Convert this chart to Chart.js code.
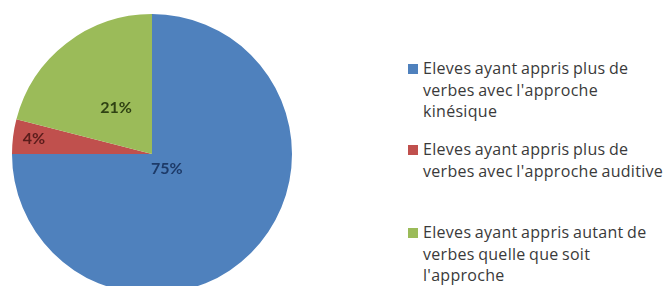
<!DOCTYPE html>
<html>
<head>
<meta charset="utf-8">
<script src="https://cdn.jsdelivr.net/npm/chart.js@4.4.1/dist/chart.umd.min.js"></script>
<style>
  html, body { margin: 0; padding: 0; background: #ffffff; }
  body { width: 668px; height: 286px; overflow: hidden; position: relative; font-family: "Open Sans", Lato, sans-serif; }
  #pieWrap { position: absolute; left: 12px; top: 14px; width: 280px; height: 280px; }
  .item { position: absolute; left: 408px; }
  .sw { position: absolute; left: 0; top: 5.5px; width: 10px; height: 10px; }
  .txt { position: absolute; left: 15px; top: -0.5px; font-size: 16px; line-height: 21.5px; color: #3a3a3a; white-space: nowrap; word-spacing: -1px; letter-spacing: 0.3px; }
</style>
</head>
<body>
<div id="pieWrap"><canvas id="pie" width="280" height="280"></canvas></div>
<div id="legend"></div>
<script>
// ---- data ----
const categories = [
  ["Eleves ayant appris plus de", "verbes avec l'approche", "kinésique"],
  ["Eleves ayant appris plus de", "verbes avec l'approche auditive"],
  ["Eleves ayant appris autant de", "verbes quelle que soit", "l'approche"]
];
const values = [75, 4, 21];
const valueLabels = ["75%", "4%", "21%"];

// ---- styles ----
const sliceColors = ["#4F81BD", "#C0504D", "#9BBB59"];
const labelColors = ["#1d3a68", "#5a1c1b", "#2f4213"];
const labelRadialFrac = [0.15, 0.85, 0.42];
const legendTops = [58.5, 139.5, 222.5];

const labelPlugin = {
  id: 'sliceLabels',
  afterDatasetsDraw(chart) {
    const ctx = chart.ctx;
    const meta = chart.getDatasetMeta(0);
    ctx.save();
    ctx.font = "bold 16px Lato, 'Open Sans', sans-serif";
    ctx.textAlign = 'center';
    ctx.textBaseline = 'middle';
    meta.data.forEach((arc, i) => {
      const p = arc.getProps(['x', 'y', 'startAngle', 'endAngle', 'outerRadius'], true);
      const mid = (p.startAngle + p.endAngle) / 2;
      const r = p.outerRadius * labelRadialFrac[i];
      ctx.fillStyle = labelColors[i];
      ctx.fillText(valueLabels[i], p.x + Math.cos(mid) * r, p.y + Math.sin(mid) * r);
    });
    ctx.restore();
  }
};

new Chart(document.getElementById('pie'), {
  type: 'pie',
  data: {
    labels: categories.map(c => c.join(' ')),
    datasets: [{
      data: values,
      backgroundColor: sliceColors,
      borderWidth: 0
    }]
  },
  options: {
    responsive: false,
    animation: false,
    layout: { padding: 0 },
    plugins: { legend: { display: false }, tooltip: { enabled: false } }
  },
  plugins: [labelPlugin]
});

// ---- HTML legend built from data ----
const legend = document.getElementById('legend');
categories.forEach((lines, i) => {
  const item = document.createElement('div');
  item.className = 'item';
  item.style.top = legendTops[i] + 'px';
  const sw = document.createElement('div');
  sw.className = 'sw';
  sw.style.background = sliceColors[i];
  const txt = document.createElement('div');
  txt.className = 'txt';
  lines.forEach((l, j) => {
    if (j) txt.appendChild(document.createElement('br'));
    txt.appendChild(document.createTextNode(l));
  });
  item.appendChild(sw);
  item.appendChild(txt);
  legend.appendChild(item);
});
</script>
</body>
</html>
